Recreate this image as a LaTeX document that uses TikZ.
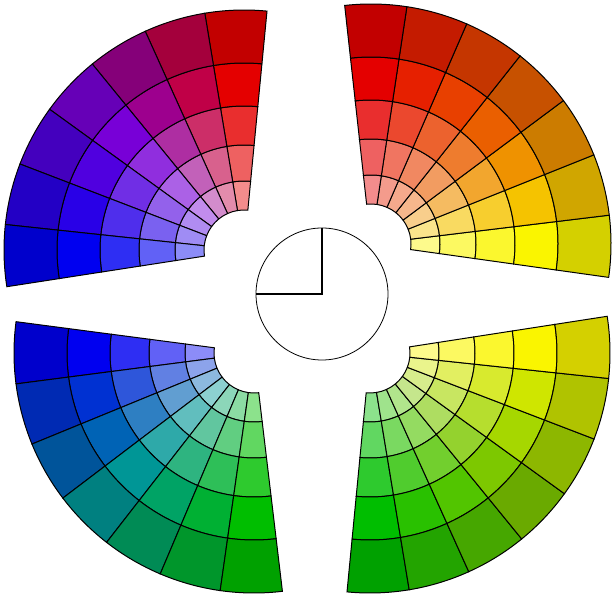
\documentclass[tikz,border=0pt]{standalone}
\definecolor{wRed}{RGB}{228,0,0}
\definecolor{wOrange}{RGB}{234,95,0}
\definecolor{wYellow}{RGB}{250,245,0}
\definecolor{wViolet}{RGB}{120,0,215}
\definecolor{wBlue}{RGB}{0,0,240}
\definecolor{wTeal}{RGB}{0,150,150}
\definecolor{wGreen}{RGB}{0,190,0}
\definecolor{wLime}{RGB}{125,200,0}
\begin{document}
\begin{tikzpicture}[x=1pt,y=1pt,cell/.style={draw=black,line width=1pt}]
\useasboundingbox (0,0) rectangle (612,594);
\foreach \px/\py/\st/\ca/\cm/\cb in {371/350/-8/wYellow/wOrange/wRed, 244/344/84.5/wRed/wViolet/wBlue, 254/241/172.5/wBlue/wTeal/wGreen, 370/241/264.5/wGreen/wLime/wYellow}{
  \foreach \s in {0,...,6}{
    \pgfmathsetmacro\a{\st+14.9*\s}
    \pgfmathsetmacro\b{\a+14.9}
    \ifnum\s<3 \pgfmathtruncatemacro\t{\s*100/3}\colorlet{hue}{\cm!\t!\ca}
    \else \pgfmathtruncatemacro\t{(\s-3)*100/3}\colorlet{hue}{\cb!\t!\cm}\fi
    \foreach \ri/\ro/\sh in {40/69/hue!45!white, 69/105/hue!62!white, 105/144/hue!82!white, 144/187/hue, 187/240/hue!85!black}
      \filldraw[cell, fill=\sh] ([shift={(\a:\ri)}]\px,\py) arc[start angle=\a, end angle=\b, radius=\ri] -- ([shift={(\b:\ro)}]\px,\py) arc[start angle=\b, end angle=\a, radius=\ro] -- cycle;
  }
}
\node[circle, draw, line width=0.8pt, minimum size=132pt, inner sep=0pt] (dial) at (322,300) {};
\draw[line width=2.5pt] (dial.north) -- (dial.center) -- (dial.west);
\end{tikzpicture}
\end{document}
